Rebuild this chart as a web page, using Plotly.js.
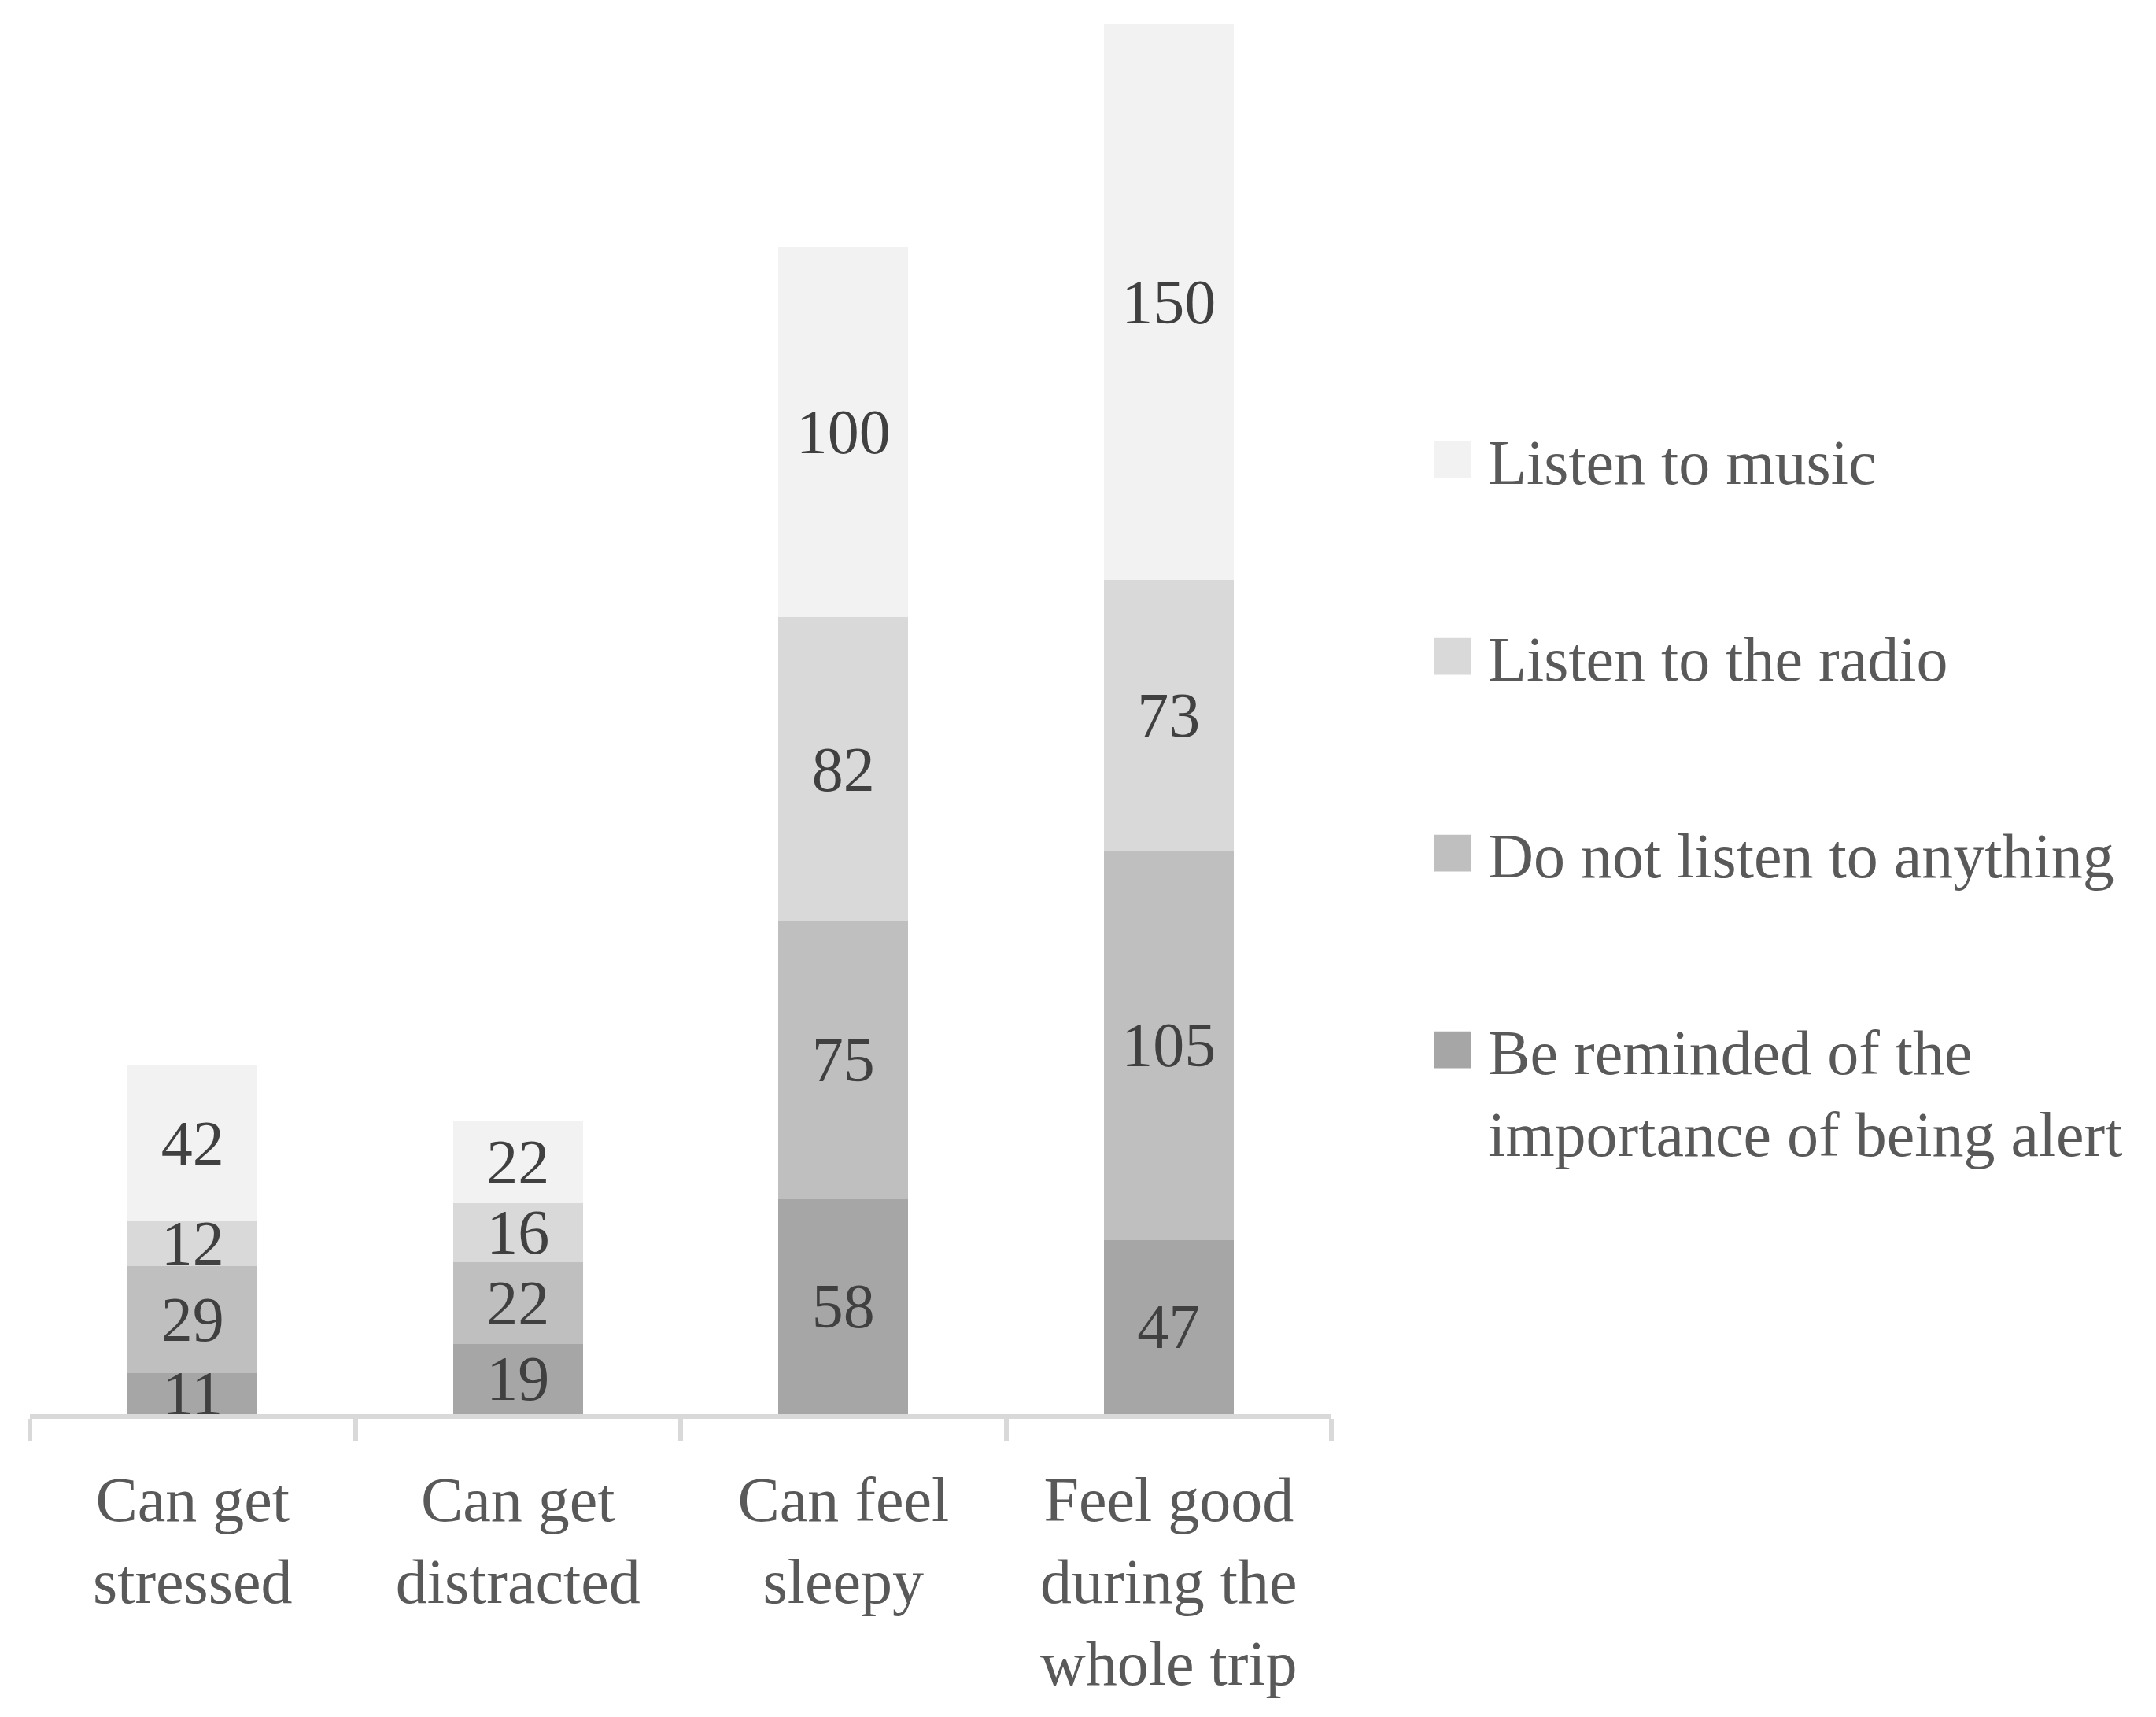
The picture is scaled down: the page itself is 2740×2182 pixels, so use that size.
<!DOCTYPE html>
<html>
<head>
<meta charset="utf-8">
<script src="https://cdn.plot.ly/plotly-3.0.1.min.js"></script>
<style>
  body { margin: 0; background: #fff; }
</style>
</head>
<body>
<div id="chart" style="width:2740px;height:2182px;"></div>
<script>
// categories along the x axis
const categories = ['Can get<br>stressed', 'Can get<br>distracted', 'Can feel<br>sleepy', 'Feel good<br>during the<br>whole trip'];

// stacked series, bottom to top
const reminded = [11, 19, 58, 47];
const nothing = [29, 22, 75, 105];
const radio = [12, 16, 82, 73];
const music = [42, 22, 100, 150];

const seriesNames = ['Be reminded of the<br>importance of being alert', 'Do not listen to anything', 'Listen to the radio', 'Listen to music'];
const seriesColors = ['#a6a6a6', '#bfbfbf', '#d9d9d9', '#f2f2f2'];

const fontFamily = 'Liberation Serif, Times New Roman, serif';

function makeTrace(values, i) {
    return {
        type: 'bar',
        x: categories,
        y: values,
        name: seriesNames[i],
        legendgroup: 'g' + i,
        legendrank: 4 - i,   // music on top of the legend
        marker: {color: seriesColors[i]},
        text: values.map(String),
        textposition: 'inside',
        insidetextanchor: 'middle',
        constraintext: 'none',
        textangle: 0,
        textfont: {family: fontFamily, size: 80, color: '#404040'},
        hoverinfo: 'none'
    };
}

let traces = [reminded, nothing, radio, music].map(makeTrace);

let layout = {
    width: 2740,
    height: 2182,
    margin: {l: 38, r: 1048, t: 31, b: 385, autoexpand: false},
    paper_bgcolor: '#ffffff',
    plot_bgcolor: '#ffffff',
    barmode: 'stack',
    bargap: 0.6,
    showlegend: true,
    legend: {
        x: 1.066,
        xanchor: 'left',
        y: 0.445,
        yanchor: 'middle',
        traceorder: 'grouped',
        tracegroupgap: 143,
        itemwidth: 80,
        valign: 'top',
        font: {family: fontFamily, size: 80, color: '#595959'},
        bgcolor: 'rgba(0,0,0,0)'
    },
    xaxis: {
        type: 'category',
        automargin: false,
        showline: true,
        linecolor: '#d9d9d9',
        linewidth: 6,
        ticks: 'outside',
        tickson: 'boundaries',
        ticklen: 28,
        tickwidth: 6,
        tickcolor: '#d9d9d9',
        ticklabelstandoff: 34,
        showgrid: false,
        zeroline: false,
        tickfont: {family: fontFamily, size: 80, color: '#595959'}
    },
    yaxis: {
        visible: false,
        range: [0, 375],
        automargin: false,
        showgrid: false,
        zeroline: false
    }
};

Plotly.newPlot('chart', traces, layout, {staticPlot: true}).then(function (gd) {
    // enlarge the legend swatches to match the big square keys
    gd.querySelectorAll('.legend .legendpoints path').forEach(function (p) {
        let t = p.getAttribute('transform') || '';
        p.setAttribute('transform', t + ' scale(3.9)');
    });
});
</script>
</body>
</html>
